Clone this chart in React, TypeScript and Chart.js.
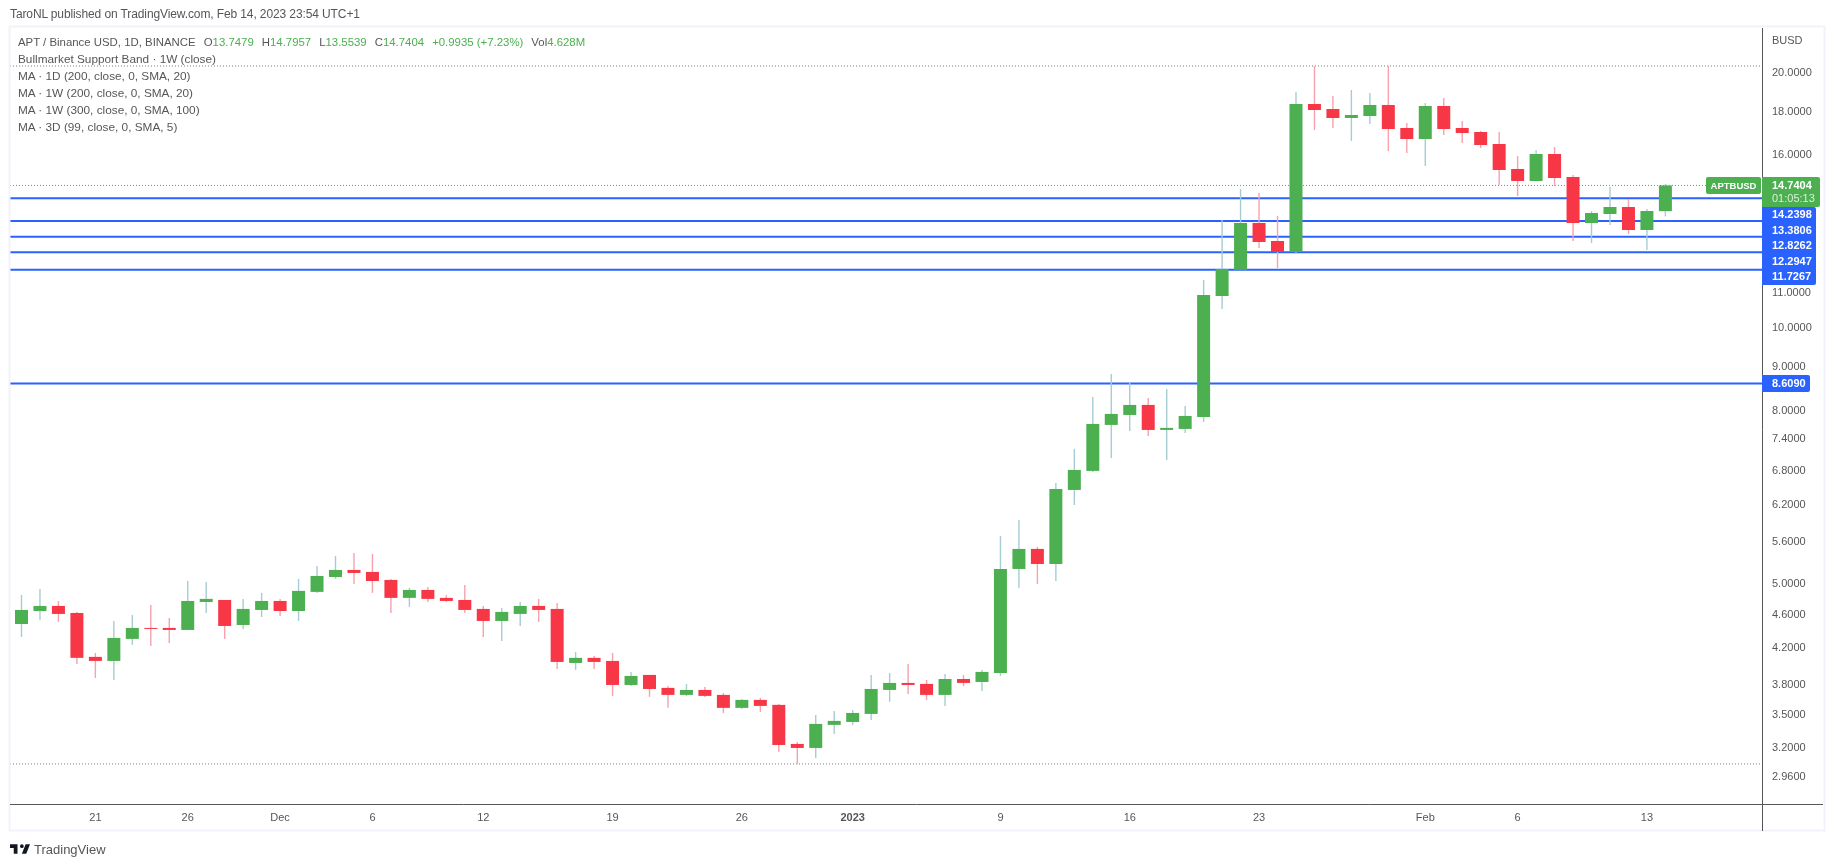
import React, { useEffect, useRef } from 'react'
import { Chart, registerables } from "chart.js";

Chart.register(...registerables)

const FONT = "'Liberation Sans', sans-serif"
const TEXT = '#565656'
const GREEN = '#4CAF50'
const RED = '#F73646'
const BLUE = '#2962FF'

const opens = [4.484, 4.645, 4.709, 4.620, 4.101, 4.056, 4.306, 4.436, 4.436, 4.412, 4.760, 4.786, 4.472, 4.658, 4.773, 4.645, 4.892, 5.094, 5.192, 5.164, 5.053, 4.813, 4.918, 4.813, 4.786, 4.671, 4.521, 4.608, 4.709, 4.671, 4.034, 4.090, 4.056, 3.800, 3.905, 3.770, 3.699, 3.749, 3.699, 3.571, 3.649, 3.600, 3.238, 3.203, 3.410, 3.437, 3.513, 3.749, 3.821, 3.811, 3.699, 3.862, 3.831, 3.926, 5.206, 5.497, 5.277, 6.451, 6.793, 7.696, 7.907, 8.125, 7.592, 7.613, 7.864, 10.920, 11.719, 13.312, 12.678, 12.305, 18.386, 18.138, 17.701, 17.797, 18.336, 17.227, 16.720, 18.287, 17.227, 17.041, 16.495, 15.413, 14.920, 16.054, 15.082, 13.312, 13.641, 13.903, 13.062, 13.7479]
const highs = [4.852, 4.932, 4.773, 4.633, 4.145, 4.521, 4.595, 4.722, 4.558, 5.039, 5.026, 4.786, 4.800, 4.878, 4.800, 5.067, 5.249, 5.394, 5.438, 5.423, 5.067, 4.945, 4.958, 4.852, 4.985, 4.709, 4.684, 4.760, 4.800, 4.747, 4.156, 4.112, 4.145, 3.937, 3.905, 3.790, 3.811, 3.780, 3.719, 3.659, 3.669, 3.609, 3.255, 3.503, 3.541, 3.551, 3.905, 3.926, 4.023, 3.852, 3.915, 3.905, 3.958, 5.695, 5.947, 5.527, 6.575, 7.211, 8.303, 8.838, 8.648, 8.280, 8.485, 8.103, 11.405, 13.421, 14.599, 14.441, 13.567, 18.995, 20.384, 18.790, 19.098, 18.943, 20.384, 17.462, 18.436, 18.688, 17.557, 17.088, 17.041, 15.966, 16.229, 16.362, 15.165, 13.752, 14.678, 14.208, 13.827, 14.7957]
const lows = [4.329, 4.533, 4.509, 4.023, 3.873, 3.852, 4.236, 4.225, 4.259, 4.412, 4.620, 4.306, 4.424, 4.570, 4.583, 4.521, 4.878, 5.067, 4.999, 4.878, 4.620, 4.696, 4.760, 4.760, 4.620, 4.329, 4.282, 4.460, 4.509, 3.969, 3.958, 3.969, 3.689, 3.790, 3.679, 3.571, 3.689, 3.679, 3.522, 3.561, 3.532, 3.169, 3.067, 3.117, 3.327, 3.410, 3.456, 3.629, 3.709, 3.649, 3.590, 3.790, 3.739, 3.894, 4.945, 4.999, 5.039, 6.193, 6.774, 7.037, 7.571, 7.469, 6.998, 7.530, 7.759, 10.542, 11.719, 12.439, 11.783, 12.239, 17.134, 17.227, 16.630, 17.415, 16.185, 16.097, 15.539, 16.903, 16.540, 16.317, 14.758, 14.324, 14.920, 14.718, 12.678, 12.609, 13.240, 12.921, 12.372, 13.5539]
const closes = [4.658, 4.709, 4.608, 4.090, 4.056, 4.317, 4.436, 4.424, 4.412, 4.773, 4.800, 4.460, 4.671, 4.773, 4.645, 4.905, 5.108, 5.192, 5.150, 5.039, 4.813, 4.918, 4.800, 4.773, 4.658, 4.521, 4.633, 4.709, 4.658, 4.045, 4.090, 4.045, 3.800, 3.894, 3.759, 3.699, 3.749, 3.689, 3.571, 3.649, 3.590, 3.229, 3.203, 3.419, 3.447, 3.522, 3.759, 3.821, 3.800, 3.699, 3.862, 3.821, 3.937, 5.206, 5.497, 5.277, 6.469, 6.811, 7.717, 7.929, 8.125, 7.592, 7.634, 7.886, 10.950, 11.751, 13.312, 12.643, 12.305, 18.386, 18.089, 17.701, 17.845, 18.336, 17.181, 16.720, 18.287, 17.181, 16.995, 16.450, 15.371, 14.920, 16.054, 15.041, 13.312, 13.678, 13.903, 13.062, 13.752, 14.7404]

const priceTicks = [20, 18, 16, 11, 10, 9, 8, 7.4, 6.8, 6.2, 5.6, 5, 4.6, 4.2, 3.8, 3.5, 3.2, 2.96]
const dateTickIndex = [4, 9, 14, 19, 25, 32, 39, 45, 53, 60, 67, 76, 81, 88]
const dateTickLabels = ['21', '26', 'Dec', '6', '12', '19', '26', '2023', '9', '16', '23', 'Feb', '6', '13']

const levels = [14.2398, 13.3806, 12.8262, 12.2947, 11.7267, 8.6090]
const rangeHigh = 20.384
const rangeLow = 3.067
const lastPrice = 14.7404

const legendLines = [
    'Bullmarket Support Band · 1W (close)',
    'MA · 1D (200, close, 0, SMA, 20)',
    'MA · 1W (200, close, 0, SMA, 20)',
    'MA · 1W (300, close, 0, SMA, 100)',
    'MA · 3D (99, close, 0, SMA, 5)',
]
const ohlcLegend = [['O', '13.7479'], ['H', '14.7957'], ['L', '13.5539'], ['C', '14.7404']]

const X_MIN = -0.6226
const X_MAX = 94.23
const Y_MIN = 2.751
const Y_MAX = 22.598

const tvFrame = {
    id: 'tvFrame',
    afterDraw(chart: any) {
        const { ctx, chartArea: a } = chart
        ctx.save()
        ctx.strokeStyle = '#F0F3FA'
        ctx.lineWidth = 2
        ctx.strokeRect(a.left - 0.5, a.top - 1.5, 1825 - a.left, 832 - a.top)
        ctx.strokeStyle = TEXT
        ctx.lineWidth = 1
        ctx.beginPath()
        ctx.moveTo(a.right + 0.5, a.top)
        ctx.lineTo(a.right + 0.5, 831)
        ctx.moveTo(a.left, a.bottom + 0.5)
        ctx.lineTo(1823, a.bottom + 0.5)
        ctx.stroke()
        ctx.restore()
    },
}

const priceTags = {
    id: 'priceTags',
    afterDraw(chart: any) {
        const { ctx, chartArea: a, scales } = chart
        const y = scales.y
        const tagX = a.right + 10
        const lastY = y.getPixelForValue(lastPrice)

        ctx.save()
        ctx.textBaseline = 'middle'
        ctx.textAlign = 'left'

        ctx.fillStyle = TEXT
        ctx.font = `11px ${FONT}`
        ctx.fillText('BUSD', tagX, 41)

        // symbol + last price
        ctx.fillStyle = GREEN
        ctx.beginPath()
        ctx.roundRect(a.left + 1696, lastY - 8.5, 55, 17, 2)
        ctx.fill()
        ctx.beginPath()
        ctx.roundRect(a.right, lastY - 8.5, 58, 30, [0, 2, 2, 0])
        ctx.fill()
        ctx.fillStyle = '#FFFFFF'
        ctx.font = `bold 9.5px ${FONT}`
        ctx.textAlign = 'center'
        ctx.fillText('APTBUSD', a.left + 1723.5, lastY + 0.5)
        ctx.textAlign = 'left'
        ctx.font = `bold 11px ${FONT}`
        ctx.fillText('14.7404', tagX, lastY + 0.5)
        ctx.fillStyle = '#DBEFDC'
        ctx.font = `11px ${FONT}`
        ctx.fillText('01:05:13', tagX, lastY + 14)

        // stacked level labels under the last price
        const stackTop = lastY + 21.5
        const labels = levels.slice(0, 5)
        ctx.fillStyle = BLUE
        ctx.beginPath()
        ctx.roundRect(a.right, stackTop, 54, 78, [0, 2, 2, 0])
        ctx.fill()
        ctx.fillStyle = '#FFFFFF'
        ctx.font = `bold 11px ${FONT}`
        labels.forEach((v, i) => {
            ctx.fillText(v.toFixed(4), tagX, stackTop + 8.5 + i * 15.5)
        })

        const loneLevel = levels[5]
        const loneY = y.getPixelForValue(loneLevel)
        ctx.fillStyle = BLUE
        ctx.beginPath()
        ctx.roundRect(a.right, loneY - 8.5, 48, 17, [0, 2, 2, 0])
        ctx.fill()
        ctx.fillStyle = '#FFFFFF'
        ctx.fillText(loneLevel.toFixed(4), tagX, loneY + 0.5)
        ctx.restore()
    },
}

const hLine = (value: number, color: string, width: number, dash: number[], order: number) => ({
    type: 'line',
    data: [{ x: X_MIN, y: value }, { x: X_MAX, y: value }],
    borderColor: color,
    borderWidth: width,
    borderDash: dash,
    pointRadius: 0,
    order,
})

const App: React.FunctionComponent = () => {

    const chartRef = useRef<any>()

    useEffect(() => {
        const chartCtx = chartRef.current.getContext("2d") as CanvasRenderingContext2D;
        const candleColors = opens.map((o, i) => closes[i] >= o ? GREEN : RED)
        const wickColors = opens.map((o, i) => closes[i] >= o ? '#A5CDD1' : '#F7A1AC')

        const newChart = new Chart(chartCtx, {
            type: "bar",
            data: {
                datasets: [
                    {
                        data: opens.map((o, i) => ({ x: i, y: [o, closes[i]] })),
                        backgroundColor: candleColors,
                        barThickness: 13,
                        order: 0,
                    },
                    {
                        data: lows.map((l, i) => ({ x: i, y: [l, highs[i]] })),
                        backgroundColor: wickColors,
                        barThickness: 1.4,
                        order: 1,
                    },
                    ...levels.map((v) => hLine(v, BLUE, 2, [], 2)),
                    hLine(rangeHigh, '#787B86', 1, [1, 2], 3),
                    hLine(rangeLow, '#787B86', 1, [1, 2], 3),
                    hLine(lastPrice, GREEN, 1, [1, 2], 3),
                ] as any,
            },
            plugins: [tvFrame, priceTags],
            options: {
                animation: false,
                responsive: false,
                devicePixelRatio: 1,
                events: [],
                layout: { padding: { left: 10, top: 28, right: 10, bottom: 36 } },
                datasets: { bar: { grouped: false, inflateAmount: 0, borderWidth: 0 } },
                plugins: {
                    legend: { display: false },
                    tooltip: { enabled: false },
                },
                scales: {
                    x: {
                        type: 'linear',
                        offset: false,
                        bounds: 'data',
                        min: X_MIN,
                        max: X_MAX,
                        grid: { display: false, offset: false, drawTicks: false },
                        border: { display: false },
                        afterBuildTicks: (axis: any) => {
                            axis.ticks = dateTickIndex.map((value) => ({ value }))
                        },
                        afterFit: (axis: any) => { axis.height = 27 },
                        ticks: {
                            autoSkip: false,
                            maxRotation: 0,
                            padding: 7,
                            color: TEXT,
                            font: (c: any) => ({
                                family: FONT,
                                size: 11,
                                weight: c.tick && c.tick.value === 45 ? 'bold' : 'normal',
                            }),
                            callback: (value: any) => dateTickLabels[dateTickIndex.indexOf(value)],
                        },
                    },
                    y: {
                        type: 'logarithmic',
                        position: 'right',
                        bounds: 'data',
                        min: Y_MIN,
                        max: Y_MAX,
                        grid: { display: false, drawTicks: false },
                        border: { display: false },
                        afterBuildTicks: (axis: any) => {
                            axis.ticks = priceTicks.map((value) => ({ value }))
                        },
                        afterFit: (axis: any) => { axis.width = 62 },
                        ticks: {
                            autoSkip: false,
                            padding: 10,
                            color: TEXT,
                            font: { family: FONT, size: 11 },
                            callback: (value: any) => Number(value).toFixed(4),
                        },
                    },
                },
            },
        } as any);

        return () => {
            newChart.destroy()
        }

    }, [])

    const textStyle: React.CSSProperties = { position: 'absolute', left: 18, fontFamily: FONT, fontSize: 11.8, lineHeight: '17px', color: TEXT, whiteSpace: 'nowrap' }

    return (
        <div style={{ position: 'absolute', left: 0, top: 0, width: 1834, height: 867, background: '#FFFFFF', overflow: 'hidden' }}>
            <canvas ref={chartRef} width={1834} height={867} style={{ position: 'absolute', left: 0, top: 0 }}></canvas>

            <div style={{ ...textStyle, left: 10, top: 6, fontSize: 12, letterSpacing: -0.11 }}>TaroNL published on TradingView.com, Feb 14, 2023 23:54 UTC+1</div>

            <div style={{ ...textStyle, top: 34, fontSize: 11.4 }}>
                APT / Binance USD, 1D, BINANCE
                {ohlcLegend.map(([k, v]) => (
                    <span key={k} style={{ marginLeft: 8 }}>{k}<span style={{ color: GREEN }}>{v}</span></span>
                ))}
                <span style={{ marginLeft: 8, color: GREEN }}>+0.9935 (+7.23%)</span>
                <span style={{ marginLeft: 8 }}>Vol<span style={{ color: GREEN }}>4.628M</span></span>
            </div>
            {legendLines.map((line, i) => (
                <div key={line} style={{ ...textStyle, top: 51 + i * 17 }}>{line}</div>
            ))}

            <svg viewBox="2 6 32 15" width={20} height={10} style={{ position: 'absolute', left: 10, top: 844 }}>
                <path fill="#131722" d="M14 6H2v6h6v9h6V6zm14 15h-7l6-15h7l-6 15zm-7-9a3 3 0 1 0 0-6 3 3 0 0 0 0 6z" />
            </svg>
            <div style={{ ...textStyle, left: 34, top: 841, fontSize: 13 }}>TradingView</div>
        </div>
    );
}

export default App;
